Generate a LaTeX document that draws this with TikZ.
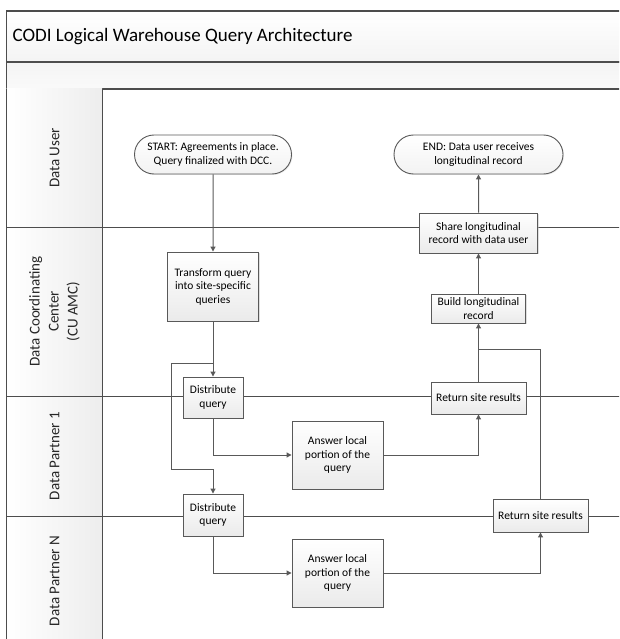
\documentclass[tikz,border=0pt]{standalone}
\usepackage{fontspec}
\setmainfont{Carlito}
\usepackage{xcolor}
\usepackage{tikz}
\usetikzlibrary{shapes.misc,arrows.meta,shadows}
\definecolor{linegray}{HTML}{595959}
\definecolor{bordergray}{HTML}{4D4D4D}
\tikzstyle{band} = [draw=bordergray, line width=1.6pt, top color=white, bottom color=gray!9]
\tikzstyle{lane} = [draw=bordergray, line width=0.9pt]
\tikzstyle{lanelabel} = [rotate=90, align=center, text=black!85, font=\fontsize{15}{19}\selectfont]
\tikzstyle{terminal} = [rounded rectangle, minimum height=39pt, inner sep=0pt, align=center, draw=linegray, line width=0.9pt, top color=white, bottom color=gray!10, drop shadow={shadow xshift=1pt, shadow yshift=-1pt, fill=black!15}, font=\fontsize{11.5}{13.5}\selectfont]
\tikzstyle{process} = [rectangle, inner sep=0pt, align=center, draw=linegray, line width=0.9pt, top color=white, bottom color=gray!16, drop shadow={shadow xshift=1.3pt, shadow yshift=-1.3pt, fill=black!25}, font=\fontsize{11.5}{13.5}\selectfont]
\tikzstyle{arrow} = [draw=linegray, line width=1pt, ->, >={Triangle[length=5pt, width=5pt]}]
\tikzstyle{line} = [draw=linegray, line width=1pt]

\begin{document}
\begin{tikzpicture}[x=1pt, y=-1pt]
	\useasboundingbox (0,0) rectangle (619,639);
	\clip (0,0) rectangle (619,639);

	\draw [band] (6.5,11) rectangle (640,62);
	\draw [band, top color=gray!9, bottom color=gray!4] (6.5,62) rectangle (640,89);
	\fill [left color=white, right color=gray!14] (6.5,89) rectangle (102,650);
	\draw [lane] (6.5,89) -- (6.5,650);
	\draw [lane] (102,89) -- (102,650);
	\draw [lane] (6.5,227) -- (640,227);
	\draw [lane] (6.5,396) -- (640,396);
	\draw [lane] (6.5,516) -- (640,516);

	\node (title) [anchor=west, font=\fontsize{19}{23}\selectfont] at (9,37) {CODI Logical Warehouse Query Architecture};

	\node (laneuser) [lanelabel] at (54.5,158) {Data User};
	\node (lanedcc) [lanelabel] at (54.5,311.5) {Data Coordinating\\Center\\(CU AMC)};
	\node (lanep1) [lanelabel] at (54.5,456) {Data Partner 1};
	\node (lanepn) [lanelabel] at (54.5,581) {Data Partner N};

	\node (start) [terminal, minimum width=157pt] at (213,154.5) {START: Agreements in place.\\Query finalized with DCC.};
	\node (end) [terminal, minimum width=169pt] at (478.5,154.5) {END: Data user receives\\longitudinal record};
	\node (transform) [process, minimum width=91pt, minimum height=69pt] at (213,286.5) {Transform query\\into site-specific\\queries};
	\node (share) [process, minimum width=118pt, minimum height=40pt] at (478.5,233) {Share longitudinal\\record with data user};
	\node (build) [process, minimum width=94pt, minimum height=29pt] at (478.5,308.5) {Build longitudinal\\record};
	\node (dist1) [process, minimum width=60pt, minimum height=41pt] at (213,397.5) {Distribute\\query};
	\node (dist2) [process, minimum width=60pt, minimum height=42pt] at (213,515) {Distribute\\query};
	\node (answer1) [process, minimum width=91pt, minimum height=68pt] at (337.5,455) {Answer local\\portion of the\\query};
	\node (answer2) [process, minimum width=91pt, minimum height=68pt] at (337.5,573) {Answer local\\portion of the\\query};
	\node (return1) [process, minimum width=95pt, minimum height=32pt] at (478.5,398) {Return site results};
	\node (return2) [process, minimum width=95pt, minimum height=33pt] at (540.5,515.5) {Return site results};

	\coordinate (split) at (213,363);
	\coordinate (join) at (478.5,349);

	\draw [arrow] (start) -- (transform);
	\draw [arrow] (transform) -- (dist1);
	\draw [arrow] (split) -- ++(-42,0) -- ++(0,106) -| (dist2);
	\draw [arrow] (dist1) |- (answer1);
	\draw [arrow] (dist2) |- (answer2);
	\draw [arrow] (answer1) -| (return1);
	\draw [arrow] (answer2) -| (return2);
	\draw [line] (return2) |- (join);
	\draw [arrow] (return1) -- (build);
	\draw [arrow] (build) -- (share);
	\draw [arrow] (share) -- (end);

\end{tikzpicture}
\end{document}
